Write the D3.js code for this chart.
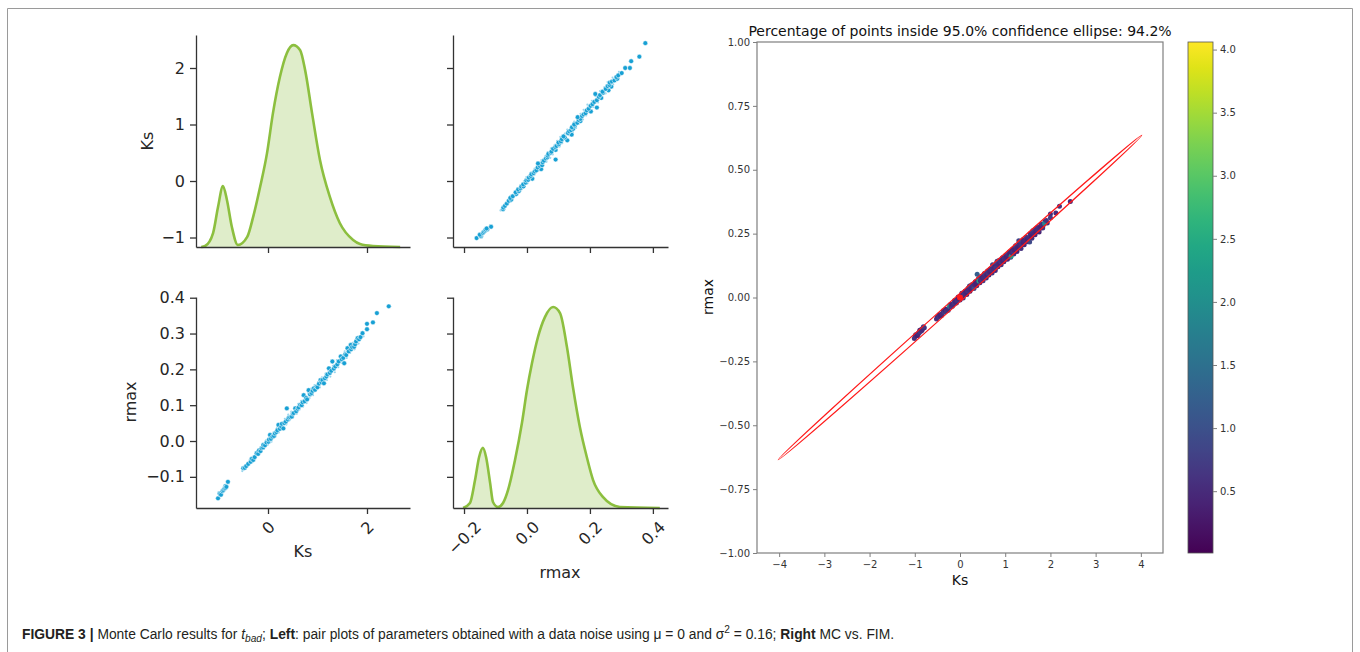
<!DOCTYPE html>
<html>
<head>
<meta charset="utf-8">
<script src="https://cdn.jsdelivr.net/npm/d3@7"></script>
<style>
  body { margin: 0; background: #fff; }
  svg { display: block; }
</style>
</head>
<body>
<svg id="chart"></svg>
<script>
const width = 1360;
const height = 652;

// KDE of Ks (diagonal, top-left)
const ksKdeX = [-1.35, -1.27, -1.11, -1.01, -0.91, -0.83, -0.73, -0.61, -0.42, -0.30, -0.16, -0.02, 0.10, 0.24, 0.38, 0.51, 0.65, 0.75, 0.89, 1.05, 1.25, 1.45, 1.72, 1.86, 2.12, 2.67]
const ksKdeY = [0.0, 0.005, 0.069, 0.198, 0.302, 0.233, 0.099, 0.010, 0.050, 0.149, 0.297, 0.465, 0.663, 0.842, 0.960, 1.000, 0.975, 0.876, 0.663, 0.431, 0.248, 0.119, 0.035, 0.015, 0.005, 0.0]

// KDE of rmax (diagonal, bottom-right)
const rKdeX = [-0.203, -0.181, -0.165, -0.152, -0.140, -0.130, -0.117, -0.108, -0.092, -0.076, -0.060, -0.038, -0.016, 0.000, 0.016, 0.035, 0.057, 0.083, 0.105, 0.127, 0.146, 0.168, 0.190, 0.210, 0.241, 0.295, 0.422]
const rKdeY = [0.0, 0.025, 0.139, 0.254, 0.299, 0.254, 0.124, 0.030, 0.005, 0.025, 0.090, 0.239, 0.423, 0.587, 0.721, 0.851, 0.950, 1.000, 0.970, 0.801, 0.602, 0.403, 0.254, 0.139, 0.055, 0.005, 0.0]

// Monte Carlo samples drawn as large dots: [Ks, rmax, colour value]
const mcSamples = [
  [-1.01, -0.160, 0.6], [-0.98, -0.146, 0.5], [-0.97, -0.148, 0.7], [-0.95, -0.150, 0.4], [-0.92, -0.140, 0.6],
  [-0.90, -0.137, 0.5], [-0.88, -0.133, 0.8], [-0.86, -0.126, 0.4], [-0.86, -0.131, 0.6], [-0.84, -0.128, 0.5],
  [-0.81, -0.114, 0.7], [-0.50, -0.076, 0.5], [-0.47, -0.075, 0.6], [-0.44, -0.070, 0.4], [-0.40, -0.064, 0.5],
  [-0.35, -0.058, 0.7], [-0.33, -0.050, 0.4], [-0.30, -0.053, 0.6], [-0.27, -0.045, 0.5], [-0.23, -0.034, 2.1],
  [-0.20, -0.036, 0.6], [-0.18, -0.026, 0.4], [-0.15, -0.028, 0.5], [-0.13, -0.020, 0.7], [-0.10, -0.018, 0.4],
  [-0.095, -0.011, 0.5], [-0.06, -0.012, 0.6], [-0.03, -0.004, 0.4], [0.01, -0.002, 0.5], [0.02, 0.004, 0.7],
  [0.04, 0.017, 0.5], [0.06, 0.006, 0.4], [0.09, 0.012, 0.6], [0.12, 0.014, 0.5], [0.14, 0.021, 0.4],
  [0.17, 0.025, 0.6], [0.19, 0.030, 0.5], [0.21, 0.045, 0.8], [0.24, 0.034, 0.4], [0.27, 0.040, 0.5],
  [0.28, 0.048, 0.6], [0.31, 0.035, 0.9], [0.33, 0.050, 0.5], [0.36, 0.054, 0.4], [0.38, 0.091, 1.2],
  [0.40, 0.060, 0.5], [0.42, 0.065, 2.4], [0.45, 0.066, 0.5], [0.48, 0.068, 0.6], [0.50, 0.076, 0.4],
  [0.52, 0.078, 0.5], [0.55, 0.091, 0.7], [0.57, 0.083, 0.5], [0.60, 0.090, 0.4], [0.62, 0.094, 0.6],
  [0.65, 0.101, 0.5], [0.68, 0.100, 0.4], [0.70, 0.108, 0.6], [0.72, 0.128, 0.9], [0.74, 0.111, 0.5],
  [0.77, 0.120, 0.4], [0.79, 0.116, 0.6], [0.82, 0.142, 0.8], [0.85, 0.130, 0.5], [0.88, 0.134, 0.4],
  [0.90, 0.140, 0.6], [0.925, 0.147, 0.5], [0.95, 0.143, 0.4], [0.98, 0.152, 0.6], [1.00, 0.150, 0.5],
  [1.03, 0.160, 0.4], [1.06, 0.170, 0.7], [1.08, 0.164, 0.5], [1.10, 0.170, 0.4], [1.13, 0.161, 2.2],
  [1.15, 0.175, 0.5], [1.18, 0.180, 0.6], [1.20, 0.186, 0.4], [1.23, 0.203, 0.7], [1.25, 0.190, 0.5],
  [1.28, 0.196, 0.4], [1.30, 0.222, 0.8], [1.33, 0.202, 0.5], [1.36, 0.208, 0.6], [1.40, 0.214, 0.4],
  [1.43, 0.222, 0.5], [1.47, 0.236, 0.7], [1.49, 0.228, 0.4], [1.52, 0.232, 0.5], [1.54, 0.217, 0.9],
  [1.56, 0.242, 0.6], [1.58, 0.240, 0.4], [1.605, 0.259, 0.7], [1.63, 0.250, 0.5], [1.67, 0.268, 0.6],
  [1.68, 0.256, 0.4], [1.70, 0.262, 0.5], [1.74, 0.263, 0.6], [1.76, 0.270, 0.5], [1.78, 0.278, 0.4],
  [1.81, 0.287, 0.6], [1.84, 0.284, 0.5], [1.87, 0.290, 1.8], [1.91, 0.301, 0.6], [2.00, 0.327, 0.5],
  [2.00, 0.312, 0.7], [2.12, 0.331, 0.5], [2.20, 0.357, 0.6], [2.44, 0.376, 0.5]
]

// further samples that show only as faint specks in the pair plot
const mcFaint = [
  [-0.99, -0.152, 0.5], [-0.93, -0.146, 0.6], [-0.89, -0.128, 0.4], [-0.83, -0.122, 0.7], [-0.79, -0.118, 0.5],
  [-0.52, -0.084, 0.6], [-0.46, -0.068, 0.4], [-0.41, -0.070, 0.5], [-0.37, -0.052, 0.6], [-0.31, -0.046, 0.4],
  [-0.26, -0.050, 0.7], [-0.22, -0.028, 0.5], [-0.17, -0.034, 0.4], [-0.12, -0.012, 0.6], [-0.08, -0.022, 0.5],
  [-0.04, 0.002, 0.4], [0.00, -0.010, 0.6], [0.03, 0.010, 0.5], [0.07, -0.002, 0.7], [0.11, 0.024, 0.4],
  [0.15, 0.012, 0.5], [0.18, 0.036, 0.6], [0.22, 0.024, 0.4], [0.26, 0.050, 0.5], [0.30, 0.040, 0.6],
  [0.34, 0.062, 0.4], [0.37, 0.046, 0.5], [0.41, 0.074, 0.6], [0.44, 0.058, 0.4], [0.47, 0.082, 0.5],
  [0.51, 0.066, 0.7], [0.54, 0.094, 0.4], [0.58, 0.076, 0.5], [0.61, 0.104, 0.6], [0.64, 0.088, 0.4],
  [0.67, 0.112, 0.5], [0.71, 0.096, 0.6], [0.75, 0.124, 0.4], [0.78, 0.106, 0.5], [0.81, 0.134, 0.7],
  [0.84, 0.120, 0.4], [0.87, 0.146, 0.5], [0.91, 0.128, 0.6], [0.94, 0.156, 0.4], [0.97, 0.140, 0.5],
  [1.01, 0.164, 0.6], [1.05, 0.150, 0.4], [1.09, 0.178, 0.5], [1.12, 0.158, 0.7], [1.16, 0.188, 0.4],
  [1.19, 0.170, 0.5], [1.22, 0.196, 0.6], [1.26, 0.180, 0.4], [1.31, 0.210, 0.5], [1.35, 0.192, 0.6],
  [1.39, 0.226, 0.4], [1.42, 0.206, 0.5], [1.46, 0.230, 0.7], [1.50, 0.218, 0.4], [1.55, 0.250, 0.5],
  [1.59, 0.232, 0.6], [1.62, 0.262, 0.4], [1.66, 0.246, 0.5], [1.71, 0.274, 0.6], [1.75, 0.256, 0.4],
  [1.79, 0.284, 0.5], [1.83, 0.272, 0.6], [1.88, 0.296, 0.4], [1.93, 0.292, 0.5]
]

// FIM confidence ellipse (data units)
const ellipseCenter = [0, 0]
const ellipseMajor = [4.02, 0.635]
const ellipseMinor = [0.047, -0.0093]

// tick values
const ksTicksY = [-1, 0, 1, 2]
const ksTicksX = [0, 2]
const rTicksX = [-0.2, 0.0, 0.2, 0.4]
const rTicksY = [-0.1, 0.0, 0.1, 0.2, 0.3, 0.4]
const mcTicksX = [-4, -3, -2, -1, 0, 1, 2, 3, 4]
const mcTicksY = [-1, -0.75, -0.5, -0.25, 0, 0.25, 0.5, 0.75, 1]
const cbTicks = [0.5, 1.0, 1.5, 2.0, 2.5, 3.0, 3.5, 4.0]
const cbDomain = [0.01, 4.06]

const titleText = 'Percentage of points inside 95.0% confidence ellipse: 94.2%'

const svg = d3.select('#chart')
    .attr('width', width)
    .attr('height', height)
    .style('font-family', 'DejaVu Sans, sans-serif')

// figure frame
svg.append('path')
    .attr('d', 'M7.5,' + height + 'V8.5H1352.5V' + height)
    .attr('fill', 'none')
    .attr('stroke', '#9a9a9a')
    .attr('stroke-width', 1)

// ---------- pair plot ----------
const cols = [[196, 410], [453, 668]]
const rows = [[35, 247], [297, 508]]
const xKs = d3.scaleLinear().domain([-1.455, 2.869]).range(cols[0])
const xR = d3.scaleLinear().domain([-0.235, 0.448]).range(cols[1])
const yKs = d3.scaleLinear().domain([-1.168, 2.584]).range([rows[0][1], rows[0][0]])
const yR = d3.scaleLinear().domain([-0.187, 0.402]).range([rows[1][1], rows[1][0]])

const axisColor = '#333'
const kdeColor = '#8cbf3f'
const dotColor = '#17a0d4'

function styleAxis(g, fontSize) {
    g.select('.domain').attr('stroke', axisColor).attr('stroke-width', 1.3)
    g.selectAll('.tick line').attr('stroke', axisColor).attr('stroke-width', 1.3)
    g.selectAll('.tick text').attr('fill', '#262626').style('font-size', fontSize + 'px')
        .style('font-family', 'DejaVu Sans, sans-serif')
}

function rotateLabels(g) {
    g.selectAll('.tick text').each(function () {
        const len = this.getComputedTextLength()
        const half = (len + 12) / (2 * Math.SQRT2)
        d3.select(this)
            .attr('y', 0)
            .attr('dy', null)
            .attr('dominant-baseline', 'central')
            .attr('text-anchor', 'middle')
            .attr('transform', 'translate(0,' + (12 + half) + ') rotate(-45)')
    })
}

function xAxisAt(scale, ticks, yPos, labelled, fmt) {
    const ax = d3.axisBottom(scale).tickValues(ticks).tickSize(6).tickSizeOuter(0).tickPadding(4)
        .tickFormat(labelled ? d3.format(fmt) : () => '')
    const g = svg.append('g').attr('transform', 'translate(0,' + yPos + ')').call(ax)
    styleAxis(g, 16)
    if (labelled) rotateLabels(g)
    return g
}

function yAxisAt(scale, ticks, xPos, labelled, fmt) {
    const ax = d3.axisLeft(scale).tickValues(ticks).tickSize(6).tickSizeOuter(0).tickPadding(5)
        .tickFormat(labelled ? d3.format(fmt) : () => '')
    const g = svg.append('g').attr('transform', 'translate(' + xPos + ',0)').call(ax)
    styleAxis(g, 16)
    return g
}

// diagonal KDEs
function drawKde(xs, ys, xScale, row) {
    const dens = d3.scaleLinear().domain([0, 1.05]).range([row[1], row[0]])
    const pts = xs.map((x, i) => [x, ys[i]])
    svg.append('path')
        .datum(pts)
        .attr('fill', kdeColor)
        .attr('fill-opacity', 0.28)
        .attr('d', d3.area().curve(d3.curveMonotoneX)
            .x(d => xScale(d[0])).y0(dens(0)).y1(d => dens(d[1])))
    svg.append('path')
        .datum(pts)
        .attr('fill', 'none')
        .attr('stroke', kdeColor)
        .attr('stroke-width', 2.6)
        .attr('d', d3.line().curve(d3.curveMonotoneX)
            .x(d => xScale(d[0])).y(d => dens(d[1])))
}

drawKde(ksKdeX, ksKdeY, xKs, rows[0])
drawKde(rKdeX, rKdeY, xR, rows[1])

// off-diagonal scatters
function drawScatter(xScale, yScale, xi, yi) {
    const g = svg.append('g')
    g.selectAll('circle.faint')
        .data(mcFaint)
        .enter()
        .append('circle')
            .attr('class', 'faint')
            .attr('cx', d => xScale(d[xi]))
            .attr('cy', d => yScale(d[yi]))
            .attr('r', 1.1)
            .attr('fill', dotColor)
            .attr('fill-opacity', 0.45)
    g.selectAll('circle.main')
        .data(mcSamples)
        .enter()
        .append('circle')
            .attr('class', 'main')
            .attr('cx', d => xScale(d[xi]))
            .attr('cy', d => yScale(d[yi]))
            .attr('r', 2.4)
            .attr('fill', dotColor)
            .attr('stroke', '#fff')
            .attr('stroke-width', 0.5)
}

drawScatter(xR, yKs, 1, 0)
drawScatter(xKs, yR, 0, 1)

// axes of the pair grid
yAxisAt(yKs, ksTicksY, cols[0][0], true, 'd')
xAxisAt(xKs, ksTicksX, rows[0][1], false)
yAxisAt(yKs, ksTicksY, cols[1][0], false)
xAxisAt(xR, rTicksX, rows[0][1], false)
yAxisAt(yR, rTicksY, cols[0][0], true, '.1f')
xAxisAt(xKs, ksTicksX, rows[1][1], true, 'd')
yAxisAt(yR, rTicksY, cols[1][0], false)
xAxisAt(xR, rTicksX, rows[1][1], true, '.1f')

// pair-grid labels
function label(x, y, txt, rot) {
    svg.append('text')
        .attr('transform', rot ? 'rotate(-90)' : null)
        .attr('x', rot ? -y : x)
        .attr('y', rot ? x : y)
        .attr('text-anchor', 'middle')
        .attr('font-size', '16px')
        .attr('fill', '#262626')
        .text(txt)
}
label(153, 141, 'Ks', true)
label(136, 402, 'rmax', true)
label(303, 557, 'Ks', false)
label(560, 578, 'rmax', false)

// ---------- MC vs FIM ----------
const xMC = d3.scaleLinear().domain([-4.49, 4.49]).range([757, 1163])
const yMC = d3.scaleLinear().domain([-1, 1]).range([553, 42])
const color = d3.scaleSequential(d3.interpolateViridis).domain(cbDomain)

svg.append('g')
    .selectAll('circle')
    .data(mcFaint.concat(mcSamples))
    .enter()
    .append('circle')
        .attr('cx', d => xMC(d[0]))
        .attr('cy', d => yMC(d[1]))
        .attr('r', 2.5)
        .attr('fill', d => color(d[2]))

// ellipse from centre and half-axis vectors
const ec = [xMC(ellipseCenter[0]), yMC(ellipseCenter[1])]
const maj = [xMC(ellipseCenter[0] + ellipseMajor[0]) - ec[0], yMC(ellipseCenter[1] + ellipseMajor[1]) - ec[1]]
const mnr = [xMC(ellipseCenter[0] + ellipseMinor[0]) - ec[0], yMC(ellipseCenter[1] + ellipseMinor[1]) - ec[1]]
svg.append('ellipse')
    .attr('cx', ec[0])
    .attr('cy', ec[1])
    .attr('rx', Math.hypot(maj[0], maj[1]))
    .attr('ry', Math.hypot(mnr[0], mnr[1]))
    .attr('transform', 'rotate(' + (Math.atan2(maj[1], maj[0]) * 180 / Math.PI) + ',' + ec[0] + ',' + ec[1] + ')')
    .attr('fill', 'none')
    .attr('stroke', '#ff1a1a')
    .attr('stroke-width', 1.2)

svg.append('circle')
    .attr('cx', ec[0])
    .attr('cy', ec[1])
    .attr('r', 3)
    .attr('fill', '#ff1a1a')

const boxColor = '#7f7f7f'
svg.append('rect')
    .attr('x', 757)
    .attr('y', 42)
    .attr('width', 1163 - 757)
    .attr('height', 553 - 42)
    .attr('fill', 'none')
    .attr('stroke', boxColor)
    .attr('stroke-width', 1.2)

function styleSmall(g) {
    g.select('.domain').remove()
    g.selectAll('.tick line').attr('stroke', boxColor)
    g.selectAll('.tick text').attr('fill', '#333').style('font-size', '10px')
        .style('font-family', 'DejaVu Sans, sans-serif')
}

const gx = svg.append('g').attr('transform', 'translate(0,553)')
    .call(d3.axisBottom(xMC).tickValues(mcTicksX).tickSize(4).tickPadding(4).tickFormat(d3.format('d')))
styleSmall(gx)

const gy = svg.append('g').attr('transform', 'translate(757,0)')
    .call(d3.axisLeft(yMC).tickValues(mcTicksY).tickSize(4).tickPadding(3).tickFormat(d3.format('.2f')))
styleSmall(gy)

svg.append('text')
    .attr('x', 960)
    .attr('y', 35.5)
    .attr('text-anchor', 'middle')
    .attr('font-size', '14px')
    .attr('fill', '#111')
    .text(titleText)

svg.append('text')
    .attr('x', 960)
    .attr('y', 585)
    .attr('text-anchor', 'middle')
    .attr('font-size', '14px')
    .attr('fill', '#111')
    .text('Ks')

svg.append('text')
    .attr('transform', 'rotate(-90)')
    .attr('x', -297)
    .attr('y', 713)
    .attr('text-anchor', 'middle')
    .attr('font-size', '14px')
    .attr('fill', '#111')
    .text('rmax')

// colorbar
const cbScale = d3.scaleLinear().domain(cbDomain).range([553, 42])
const grad = svg.append('defs').append('linearGradient')
    .attr('id', 'viridis')
    .attr('x1', 0).attr('y1', 1).attr('x2', 0).attr('y2', 0)
d3.range(0, 1.0001, 0.05).forEach(t => {
    grad.append('stop').attr('offset', t).attr('stop-color', d3.interpolateViridis(t))
})
svg.append('rect')
    .attr('x', 1188)
    .attr('y', 42)
    .attr('width', 25)
    .attr('height', 553 - 42)
    .attr('fill', 'url(#viridis)')
    .attr('stroke', '#555')
    .attr('stroke-width', 0.8)

const gcb = svg.append('g').attr('transform', 'translate(1213,0)')
    .call(d3.axisRight(cbScale).tickValues(cbTicks).tickSize(4).tickPadding(3).tickFormat(d3.format('.1f')))
styleSmall(gcb)

// caption, condensed horizontally to the reference width
const capGroup = svg.append('g')
const caption = capGroup.append('text')
    .attr('x', 0)
    .attr('y', 0)
    .attr('font-family', 'Liberation Sans, Arial, sans-serif')
    .attr('font-size', '15px')
    .attr('fill', '#231f20')

const captionParts = [
    ['FIGURE 3 | ', 'b'],
    ['Monte Carlo results for ', ''],
    ['t', 'i'],
    ['bad', 'sub'],
    ['; ', ''],
    ['Left', 'b'],
    [': pair plots of parameters obtained with a data noise using \u03bc = 0 and \u03c3', ''],
    ['2', 'sup'],
    [' = 0.16; ', ''],
    ['Right', 'b'],
    [' MC vs. FIM.', '']
]
captionParts.forEach(p => {
    const t = caption.append('tspan').text(p[0])
    if (p[1] === 'b') t.attr('font-weight', 'bold')
    if (p[1] === 'i') t.attr('font-style', 'italic')
    if (p[1] === 'sub') t.attr('font-style', 'italic').attr('font-size', '11px').attr('dy', 3)
    if (p[1] === 'sup') t.attr('font-size', '11px').attr('dy', -6)
    if (p[0] === '; ') t.attr('dy', -3)
    if (p[0] === ' = 0.16; ') t.attr('dy', 6)
})
const capLen = caption.node().getComputedTextLength()
capGroup.attr('transform', 'translate(22,639) scale(' + (873 / capLen) + ',1)')
</script>
</body>
</html>
